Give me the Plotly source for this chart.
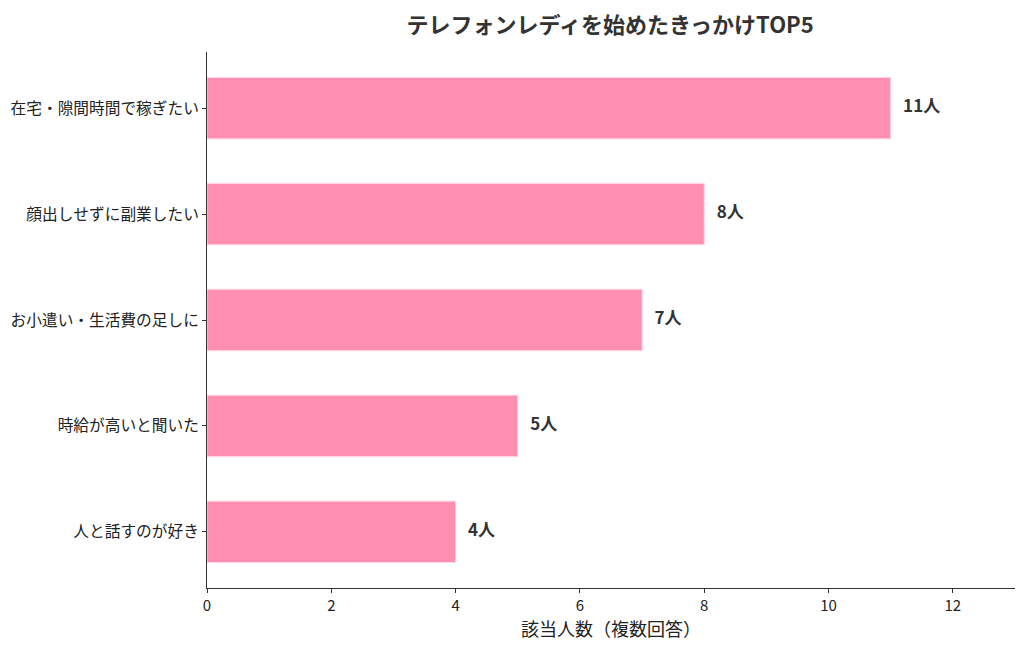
import plotly.graph_objects as go

# 回答データ（上から多い順）
reasons = [
    "在宅・隙間時間で稼ぎたい",
    "顔出しせずに副業したい",
    "お小遣い・生活費の足しに",
    "時給が高いと聞いた",
    "人と話すのが好き",
]
counts = [11, 8, 7, 5, 4]
value_labels = [f"{c}人" for c in counts]

x_ticks = [0, 2, 4, 6, 8, 10, 12]

FONT = "Noto Sans CJK JP"
PINK = "#FF8FB1"
DARK = "#333333"

fig = go.Figure()

fig.add_trace(
    go.Bar(
        x=counts,
        y=reasons,
        orientation="h",
        width=0.58,
        marker=dict(color=PINK, line=dict(color="#FFD6E2", width=1)),
        hoverinfo="x+y",
        showlegend=False,
    )
)

# 棒の右に人数ラベル
fig.add_trace(
    go.Scatter(
        x=[c + 0.2 for c in counts],
        y=reasons,
        mode="text",
        text=value_labels,
        textposition="middle right",
        textfont=dict(family=FONT, size=17, color=DARK, weight="bold"),
        hoverinfo="skip",
        showlegend=False,
    )
)

# ページ本体の余白(8px)ぶんずらしてある
fig.update_layout(
    width=1024,
    height=647,
    margin=dict(l=199, r=17, t=44, b=67),
    plot_bgcolor="white",
    paper_bgcolor="white",
    font=dict(family=FONT, size=15, color="#222222"),
    title=dict(
        text="テレフォンレディを始めたきっかけTOP5",
        x=0.588,
        xanchor="center",
        y=0.985,
        yanchor="top",
        font=dict(family=FONT, size=22, color=DARK, weight="bold"),
    ),
)

fig.update_xaxes(
    range=[0, 13],
    tickvals=x_ticks,
    showgrid=False,
    zeroline=False,
    showline=True,
    linecolor=DARK,
    linewidth=1,
    ticks="outside",
    ticklen=4,
    tickcolor=DARK,
    tickfont=dict(size=15),
    automargin=False,
    title=dict(text="該当人数（複数回答）", font=dict(size=18), standoff=4),
)

fig.update_yaxes(
    categoryorder="array",
    categoryarray=reasons[::-1],
    range=[-0.53, 4.53],
    showgrid=False,
    zeroline=False,
    showline=True,
    linecolor=DARK,
    linewidth=1,
    ticks="outside",
    ticklen=4,
    tickcolor=DARK,
    tickfont=dict(size=15.7),
    automargin=False,
)

fig.write_html("out.html")
